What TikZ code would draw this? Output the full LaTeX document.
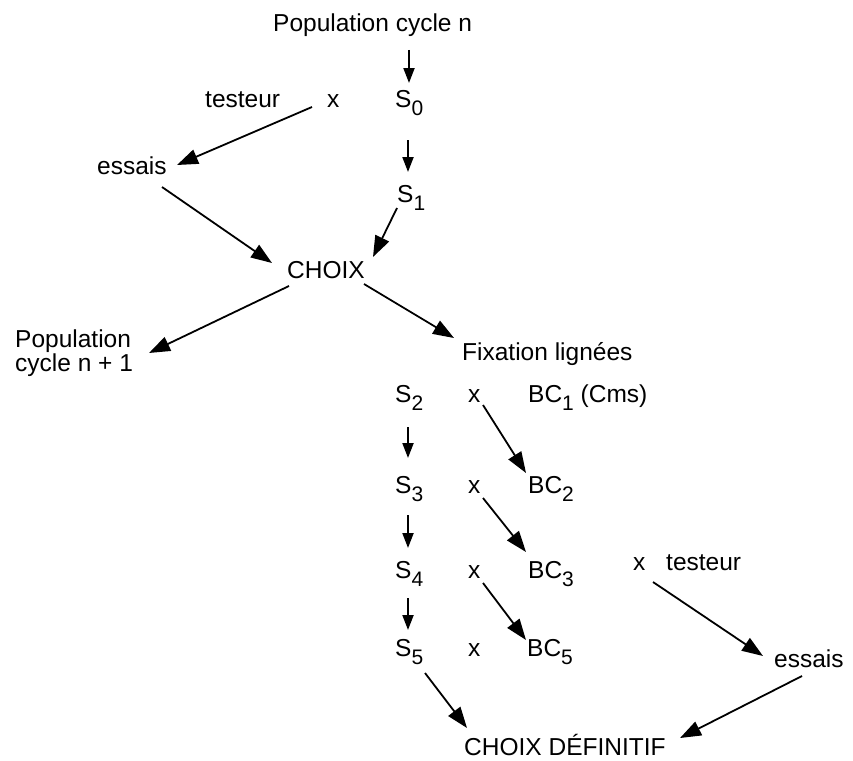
\documentclass[tikz,border=0pt]{standalone}
\usepackage{fontspec}
\setmainfont{Liberation Sans}
\usetikzlibrary{arrows.meta}
\newcommand\lsub[1]{\raisebox{-8pt}{\fontsize{21}{21}\selectfont #1}}
\begin{document}
\begin{tikzpicture}[x=1pt,y=-1pt,
  lbl/.style={anchor=base west,inner sep=0pt,font=\fontsize{24.5}{29}\selectfont},
  bigarrow/.style={line width=1.8pt,-{Triangle[length=21pt,width=15pt]}},
  smallarrow/.style={line width=2pt,-{Triangle[length=15pt,width=11pt]}}]
\useasboundingbox (0,0) rectangle (853,760);
% nodes
\node[lbl] (popn) at (273,32) {Population cycle n};
\node[lbl] (test1) at (205,107) {testeur};
\node[lbl] (x0) at (327,107) {x};
\node[lbl] (s0) at (395,107) {S\lsub{0}};
\node[lbl] (s1) at (397,202) {S\lsub{1}};
\node[lbl] (es1) at (97,174) {essais};
\node[lbl] (choix) at (287,278) {CHOIX};
\node[lbl] (popA) at (15,347) {Population};
\node[lbl] (popB) at (15,371) {cycle n + 1};
\node[lbl] (fix) at (462,360) {Fixation lignées};
\node[lbl] (s2) at (395,402) {S\lsub{2}};
\node[lbl] (x2) at (468,402) {x};
\node[lbl] (bc1) at (528,402) {BC\lsub{1} (Cms)};
\node[lbl] (s3) at (395,493) {S\lsub{3}};
\node[lbl] (x3) at (468,493) {x};
\node[lbl] (bc2) at (528,493) {BC\lsub{2}};
\node[lbl] (s4) at (395,578) {S\lsub{4}};
\node[lbl] (x4) at (468,578) {x};
\node[lbl] (bc3) at (528,578) {BC\lsub{3}};
\node[lbl] (xt) at (633,570) {x};
\node[lbl] (test2) at (666,570) {testeur};
\node[lbl] (s5) at (395,656) {S\lsub{5}};
\node[lbl] (x5) at (468,656) {x};
\node[lbl] (bc5) at (527,656) {BC\lsub{5}};
\node[lbl] (es2) at (774,667) {essais};
\node[lbl] (def) at (464,755) {CHOIX DÉFINITIF};
% connectors
\draw[smallarrow] ([shift={(136,18)}]popn.base west) -- ([shift={(14,-24)}]s0.base west);
\draw[smallarrow] ([shift={(13,33)}]s0.base west) -- ([shift={(11,-30)}]s1.base west);
\draw[bigarrow] ([shift={(-15,0)}]x0.base west) -- ([shift={(80,-9)}]es1.base west);
\draw[bigarrow] ([shift={(65,13)}]es1.base west) -- ([shift={(-15,-15)}]choix.base west);
\draw[bigarrow] ([shift={(0,6)}]s1.base west) -- ([shift={(86,-21)}]choix.base west);
\draw[bigarrow] ([shift={(2,8)}]choix.base west) -- ([shift={(134,6)}]popA.base west);
\draw[bigarrow] ([shift={(77,6)}]choix.base west) -- ([shift={(-8,-22)}]fix.base west);
\draw[smallarrow] ([shift={(13,25)}]s2.base west) -- ([shift={(13,-35)}]s3.base west);
\draw[smallarrow] ([shift={(13,22)}]s3.base west) -- ([shift={(13,-30)}]s4.base west);
\draw[smallarrow] ([shift={(13,20)}]s4.base west) -- ([shift={(13,-26)}]s5.base west);
\draw[bigarrow] ([shift={(15,3)}]x2.base west) -- ([shift={(-2,-20)}]bc2.base west);
\draw[bigarrow] ([shift={(15,5)}]x3.base west) -- ([shift={(-2,-26)}]bc3.base west);
\draw[bigarrow] ([shift={(15,5)}]x4.base west) -- ([shift={(-1,-16)}]bc5.base west);
\draw[bigarrow] ([shift={(20,12)}]xt.base west) -- ([shift={(-11,-11)}]es2.base west);
\draw[bigarrow] ([shift={(28,9)}]es2.base west) -- ([shift={(216,-17)}]def.base west);
\draw[bigarrow] ([shift={(30,17)}]s5.base west) -- ([shift={(3,-27)}]def.base west);
\end{tikzpicture}
\end{document}
